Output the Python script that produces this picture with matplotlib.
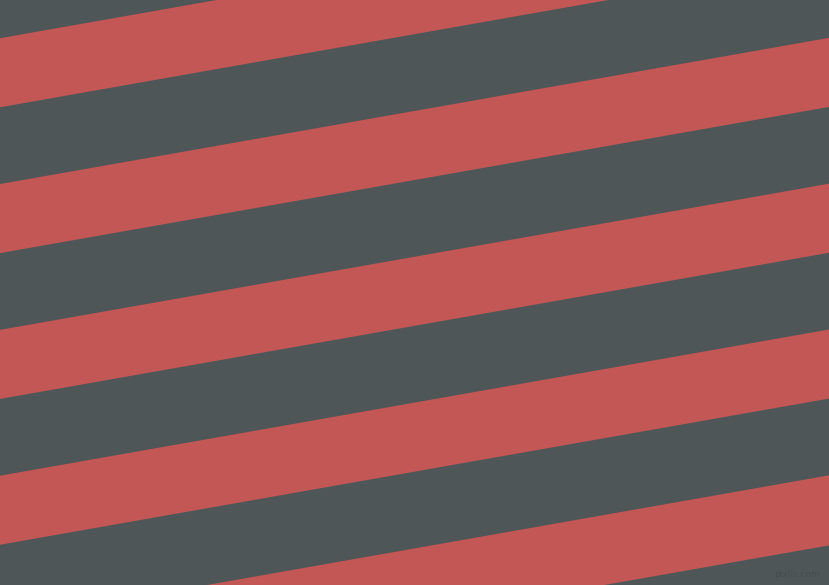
import numpy as np
import matplotlib
matplotlib.use('Agg')
import matplotlib.pyplot as plt

W, H = 829, 585

# stripe edges where they cross the left border (x=0), in pixels from the top
red_top = [38.7, 184.4, 330.1, 475.8, 621.5]
red_bottom = [107.7, 253.4, 399.1, 544.8, 691.5]
slope = 0.1763  # rise per pixel, stripes climb to the right (~10 deg)

gray = '#4f5657'
red = '#c35755'

fig = plt.figure(figsize=(8.295, 5.855), dpi=100)
ax = fig.add_axes([0, 0, 1, 1])
ax.set_xlim(0, W)
ax.set_ylim(H, 0)
ax.axis('off')
fig.patch.set_facecolor(gray)
ax.set_facecolor(gray)

xs = np.array([0, W, W, 0])
for t, b in zip(red_top, red_bottom):
    ys = np.array([t, t - slope * W, b - slope * W, b])
    ax.fill(xs, ys, color=red, lw=0)

ax.text(819, 574, 'pixlis.com', color='#474d4e', fontsize=6.5,
        ha='right', va='center')

fig.savefig('out.png', dpi=100, facecolor=gray)
